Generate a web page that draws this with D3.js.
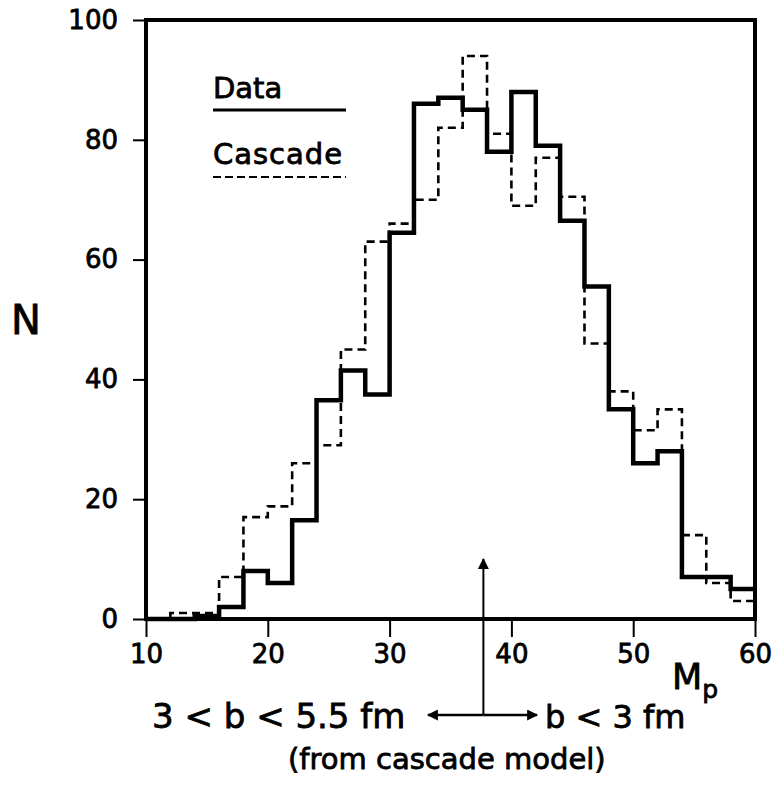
<!DOCTYPE html>
<html lang="en">
<head>
    <meta charset="UTF-8">
    <title>Multiplicity distribution</title>
    <style>
        body { margin: 0; background: #fff; }
        text { font-family: "DejaVu Sans", sans-serif; fill: #000; stroke: #000; stroke-width: 0.8px; }
    </style>
</head>
<body>
    <svg id="chart"></svg>

    <script src="https://d3js.org/d3.v7.min.js"></script>

    <script>
// bin left edges (bins are 2 units wide)
const binEdges = [10, 12, 14, 16, 18, 20, 22, 24, 26, 28, 30, 32, 34, 36, 38, 40, 42, 44, 46, 48, 50, 52, 54, 56, 58];
const dataCounts = [0, 0, 0.5, 2, 8, 6, 16.5, 36.5, 41.5, 37.5, 64.5, 86, 87, 85, 78, 88, 79, 66.5, 55.5, 35, 26, 28, 7, 7, 5];
const cascadeCounts = [0, 1, 1, 7, 17, 18.8, 26, 29, 45, 63, 66, 70, 82, 94, 81, 69, 77, 70.5, 46, 38, 31.5, 35, 14, 6, 3];
const xTicks = [10, 20, 30, 40, 50, 60];
const yTicks = [0, 20, 40, 60, 80, 100];
const binWidth = 2;
const arrowAt = 37.7;

const width = 775;
const height = 796;

const svg = d3.select("#chart")
    .attr("width", width)
    .attr("height", height);

const x = d3.scaleLinear().domain([10, 60]).range([146, 755]);
const y = d3.scaleLinear().domain([0, 100]).range([619, 20]);

// step line through the bins
function stepPoints(counts) {
    const pts = binEdges.map((e, i) => [e, counts[i]]);
    pts.push([binEdges[binEdges.length - 1] + binWidth, counts[counts.length - 1]]);
    return pts;
}
const step = d3.line()
    .x(d => x(d[0]))
    .y(d => y(d[1]))
    .curve(d3.curveStepAfter);

svg.append("path")
    .attr("d", step(stepPoints(cascadeCounts)))
    .attr("fill", "none")
    .attr("stroke", "#000")
    .attr("stroke-width", 2.6)
    .attr("stroke-dasharray", "8,5");

svg.append("path")
    .attr("d", step(stepPoints(dataCounts)))
    .attr("fill", "none")
    .attr("stroke", "#000")
    .attr("stroke-width", 4.5)
    .attr("stroke-linejoin", "miter");

// frame
svg.append("rect")
    .attr("x", x(10))
    .attr("y", y(100))
    .attr("width", x(60) - x(10))
    .attr("height", y(0) - y(100))
    .attr("fill", "none")
    .attr("stroke", "#000")
    .attr("stroke-width", 4);

// axes
const xAxis = svg.append("g")
    .attr("transform", `translate(0,${y(0)})`)
    .call(d3.axisBottom(x).tickValues(xTicks).tickSize(18).tickPadding(8));
const yAxis = svg.append("g")
    .attr("transform", `translate(${x(10)},0)`)
    .call(d3.axisLeft(y).tickValues(yTicks).tickSize(13).tickPadding(15));

[xAxis, yAxis].forEach(g => {
    g.select(".domain").remove();
    g.selectAll(".tick line").attr("stroke", "#000").attr("stroke-width", 2);
    g.selectAll(".tick text")
        .style("font-family", "'DejaVu Sans', sans-serif")
        .style("font-size", "26px")
        .attr("fill", "#000");
});

// axis titles
svg.append("text")
    .attr("x", 26)
    .attr("y", 334)
    .attr("text-anchor", "middle")
    .style("font-size", "40px")
    .text("N");

const mp = svg.append("text")
    .attr("x", 672)
    .attr("y", 689)
    .style("font-size", "35px");
mp.append("tspan").text("M");
mp.append("tspan").attr("dy", 9).style("font-size", "25px").text("p");

// legend
svg.append("text").attr("x", 213).attr("y", 98).style("font-size", "29px").text("Data");
svg.append("line")
    .attr("x1", 213).attr("x2", 346).attr("y1", 110).attr("y2", 110)
    .attr("stroke", "#000").attr("stroke-width", 3);
svg.append("text").attr("x", 213).attr("y", 164).style("font-size", "29px")
    .attr("textLength", 129).attr("lengthAdjust", "spacing").text("Cascade");
svg.append("line")
    .attr("x1", 213).attr("x2", 346).attr("y1", 177).attr("y2", 177)
    .attr("stroke", "#000").attr("stroke-width", 2.2)
    .attr("stroke-dasharray", "8,4");

// annotation arrows
svg.append("defs").append("marker")
    .attr("id", "head")
    .attr("viewBox", "0 0 10 10")
    .attr("refX", 9).attr("refY", 5)
    .attr("markerWidth", 19).attr("markerHeight", 11)
    .attr("markerUnits", "userSpaceOnUse")
    .attr("orient", "auto")
    .append("path").attr("d", "M0,0 L10,5 L0,10 Z").attr("fill", "#000");

const ax = x(arrowAt);
svg.append("line")
    .attr("x1", ax).attr("x2", ax).attr("y1", 715).attr("y2", 559)
    .attr("stroke", "#000").attr("stroke-width", 2)
    .attr("marker-end", "url(#head)");
svg.append("line")
    .attr("x1", ax).attr("x2", 428).attr("y1", 715).attr("y2", 715)
    .attr("stroke", "#000").attr("stroke-width", 2.5)
    .attr("marker-end", "url(#head)");
svg.append("line")
    .attr("x1", ax).attr("x2", 537).attr("y1", 715).attr("y2", 715)
    .attr("stroke", "#000").attr("stroke-width", 2.5)
    .attr("marker-end", "url(#head)");

svg.append("text")
    .attr("x", 152).attr("y", 728)
    .style("font-size", "34px")
    .text("3 < b < 5.5 fm");
svg.append("text")
    .attr("x", 545).attr("y", 728)
    .style("font-size", "32px")
    .text("b < 3 fm");
svg.append("text")
    .attr("x", 288).attr("y", 769)
    .style("font-size", "29px")
    .text("(from cascade model)");
    </script>
</body>
</html>
